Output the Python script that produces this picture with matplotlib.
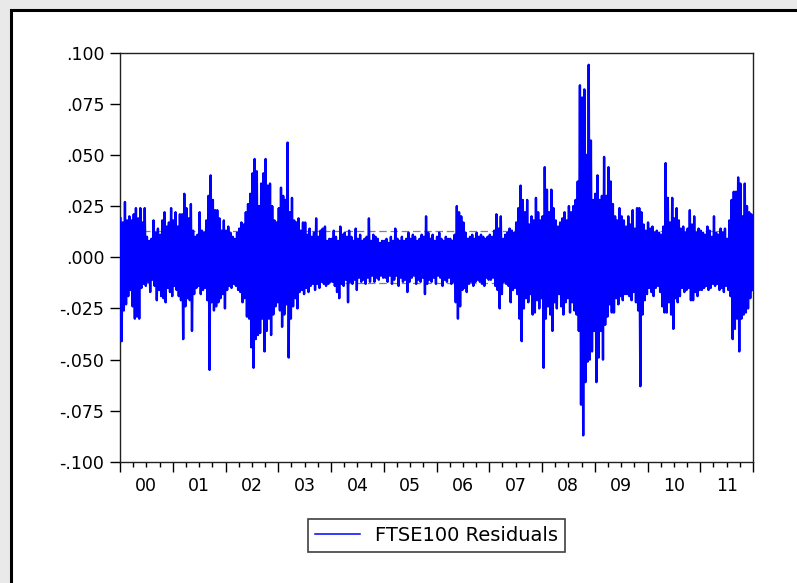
import numpy as np
import matplotlib
matplotlib.use("Agg")
import matplotlib.pyplot as plt
from matplotlib.patches import Rectangle
from matplotlib.ticker import FixedLocator, FuncFormatter

# FTSE100 residuals (x 0.001)
hi_00 = [19, 17, 27, 18, 20, 18, 21, 24, 19, 24, 17, 24, 10, 8, 9, 18, 12, 14, 11, 18, 22, 15, 17, 24]
lo_00 = [-41, -26, -23, -19, -16, -24, -30, -29, -30, -15, -13, -14, -12, -17, -11, -14, -21, -16, -19, -20, -22, -15, -17, -19]
hi_01 = [18, 22, 15, 21, 21, 31, 24, 19, 26, 13, 10, 11, 22, 13, 12, 18, 30, 40, 28, 23, 23, 19, 13, 18]
lo_01 = [-14, -16, -19, -21, -40, -24, -20, -21, -36, -18, -15, -14, -18, -16, -15, -21, -55, -22, -26, -24, -22, -20, -18, -25]
hi_02 = [13, 15, 12, 10, 9, 12, 14, 17, 16, 22, 26, 31, 41, 48, 42, 25, 36, 41, 48, 35, 36, 25, 18, 17]
lo_02 = [-16, -14, -15, -13, -14, -16, -17, -22, -20, -29, -30, -44, -54, -40, -38, -37, -30, -46, -36, -30, -38, -28, -24, -22]
hi_03 = [24, 34, 30, 28, 56, 22, 29, 18, 17, 19, 13, 17, 17, 11, 14, 10, 12, 19, 10, 13, 14, 15, 8, 9]
lo_03 = [-26, -34, -28, -23, -49, -30, -24, -20, -25, -17, -16, -18, -15, -17, -14, -13, -16, -13, -15, -12, -13, -14, -13, -12]
hi_04 = [9, 13, 10, 8, 15, 11, 12, 10, 13, 10, 8, 14, 9, 11, 8, 9, 10, 19, 8, 11, 10, 9, 7, 8]
lo_04 = [-12, -14, -17, -20, -13, -14, -11, -22, -12, -13, -11, -16, -10, -12, -11, -13, -10, -12, -9, -12, -10, -11, -9, -10]
hi_05 = [8, 9, 7, 10, 8, 14, 9, 8, 10, 8, 9, 12, 9, 11, 10, 8, 9, 11, 10, 20, 12, 9, 11, 8]
lo_05 = [-10, -12, -9, -13, -11, -9, -14, -10, -12, -11, -17, -12, -10, -9, -13, -11, -12, -10, -18, -13, -11, -12, -10, -13]
hi_06 = [10, 12, 9, 8, 10, 9, 9, 8, 11, 25, 22, 20, 17, 12, 9, 10, 11, 9, 12, 10, 11, 10, 9, 10]
lo_06 = [-9, -10, -14, -11, -12, -10, -13, -12, -22, -30, -24, -16, -15, -17, -13, -12, -14, -12, -11, -12, -13, -14, -10, -11]
hi_07 = [11, 10, 13, 21, 14, 20, 9, 11, 12, 14, 13, 12, 17, 24, 35, 28, 22, 28, 16, 20, 18, 29, 22, 18]
lo_07 = [-11, -10, -14, -16, -25, -18, -12, -13, -14, -22, -16, -15, -18, -30, -41, -25, -20, -22, -18, -28, -27, -21, -25, -20]
hi_08 = [20, 44, 33, 22, 33, 24, 18, 15, 17, 19, 22, 18, 25, 22, 25, 28, 37, 84, 78, 82, 50, 94, 57, 28]
lo_08 = [-54, -30, -24, -28, -36, -22, -25, -18, -24, -28, -22, -20, -27, -22, -26, -28, -36, -72, -87, -61, -51, -50, -46, -36]
hi_09 = [31, 40, 28, 30, 49, 30, 44, 37, 26, 20, 18, 24, 20, 18, 15, 20, 16, 23, 14, 24, 24, 22, 16, 13]
lo_09 = [-61, -49, -36, -50, -33, -29, -23, -27, -27, -20, -23, -19, -21, -18, -18, -19, -21, -17, -22, -26, -63, -28, -21, -18]
hi_10 = [17, 14, 15, 12, 13, 12, 11, 15, 46, 29, 17, 29, 19, 24, 18, 14, 15, 12, 14, 23, 16, 20, 12, 14]
lo_10 = [-15, -17, -19, -15, -14, -17, -24, -27, -27, -22, -28, -35, -20, -22, -19, -15, -17, -16, -15, -21, -21, -17, -19, -16]
hi_11 = [13, 12, 11, 15, 13, 10, 20, 12, 11, 14, 12, 14, 9, 18, 28, 32, 32, 39, 36, 20, 36, 25, 22, 21]
lo_11 = [-16, -15, -14, -16, -15, -13, -14, -13, -16, -15, -17, -14, -16, -19, -40, -35, -30, -46, -30, -28, -27, -25, -20, -16]

years = list(range(2000, 2012))
year_labels = ["00", "01", "02", "03", "04", "05", "06", "07", "08", "09", "10", "11"]
y_ticks = [-0.1, -0.075, -0.05, -0.025, 0.0, 0.025, 0.05, 0.075, 0.1]
std_band = 0.0126  # +/- one standard error band drawn by EViews

upper = np.concatenate([hi_00, hi_01, hi_02, hi_03, hi_04, hi_05, hi_06, hi_07, hi_08, hi_09, hi_10, hi_11]) / 1000
lower = np.concatenate([lo_00, lo_01, lo_02, lo_03, lo_04, lo_05, lo_06, lo_07, lo_08, lo_09, lo_10, lo_11]) / 1000

resid = np.empty(2 * len(upper))
resid[0::2] = upper
resid[1::2] = lower
per_year = len(resid) / len(years)
t = years[0] + (np.arange(len(resid)) + 0.5) / per_year

fig = plt.figure(figsize=(7.97, 5.83), dpi=100, facecolor="#e9e9e9")

# outer frame of the pasted EViews graph
fig.patches.append(Rectangle((10.5 / 797, -0.05), 1.0, 1.05 - 9.5 / 583, transform=fig.transFigure,
                             facecolor="white", edgecolor="black", linewidth=2.2, zorder=-5))

ax = fig.add_axes([120 / 797, 1 - 462 / 583, 633 / 797, 409.5 / 583])
ax.set_zorder(1)

ax.axhline(std_band, color="#808080", linestyle=(0, (6, 3)), linewidth=0.9, zorder=1)
ax.axhline(-std_band, color="#808080", linestyle=(0, (6, 3)), linewidth=0.9, zorder=1)
ax.plot(t, resid, color="#0000ff", linewidth=1.7, label="FTSE100 Residuals", zorder=3)

ax.set_xlim(years[0], years[-1] + 1)
ax.set_ylim(-0.1, 0.1)

ax.set_yticks(y_ticks)
ax.yaxis.set_major_formatter(FuncFormatter(lambda v, p: f"{v:.3f}".replace("0.", ".", 1)))

ax.xaxis.set_major_locator(FixedLocator(years + [years[-1] + 1]))
ax.xaxis.set_major_formatter(FuncFormatter(lambda v, p: ""))
quarters = [y + q for y in years for q in (0.25, 0.5, 0.75)]
ax.xaxis.set_minor_locator(FixedLocator(quarters))


def year_label(v, p):
    if abs(v % 1 - 0.5) < 1e-6:
        return year_labels[int(v) - years[0]]
    return ""


ax.xaxis.set_minor_formatter(FuncFormatter(year_label))

ax.tick_params(axis="x", which="major", length=7.2, width=1, direction="out", labelsize=12.5)
ax.tick_params(axis="x", which="minor", length=3.6, width=1, direction="out", labelsize=12.5, pad=7)
ax.tick_params(axis="y", which="major", length=7.2, width=1, direction="out", labelsize=12.5, pad=4)
for side in ["left", "right", "top", "bottom"]:
    ax.spines[side].set_linewidth(1.0)
    ax.spines[side].set_color("#202020")

leg = ax.legend(loc="center", bbox_to_anchor=(0.5, -0.179), frameon=True, fancybox=False,
                edgecolor="#404040", fontsize=14, handlelength=2.3, borderpad=0.35, framealpha=1)
leg.get_frame().set_linewidth(1.2)
leg.get_lines()[0].set_linewidth(1.1)

fig.savefig("out.png", dpi=100, facecolor=fig.get_facecolor())
